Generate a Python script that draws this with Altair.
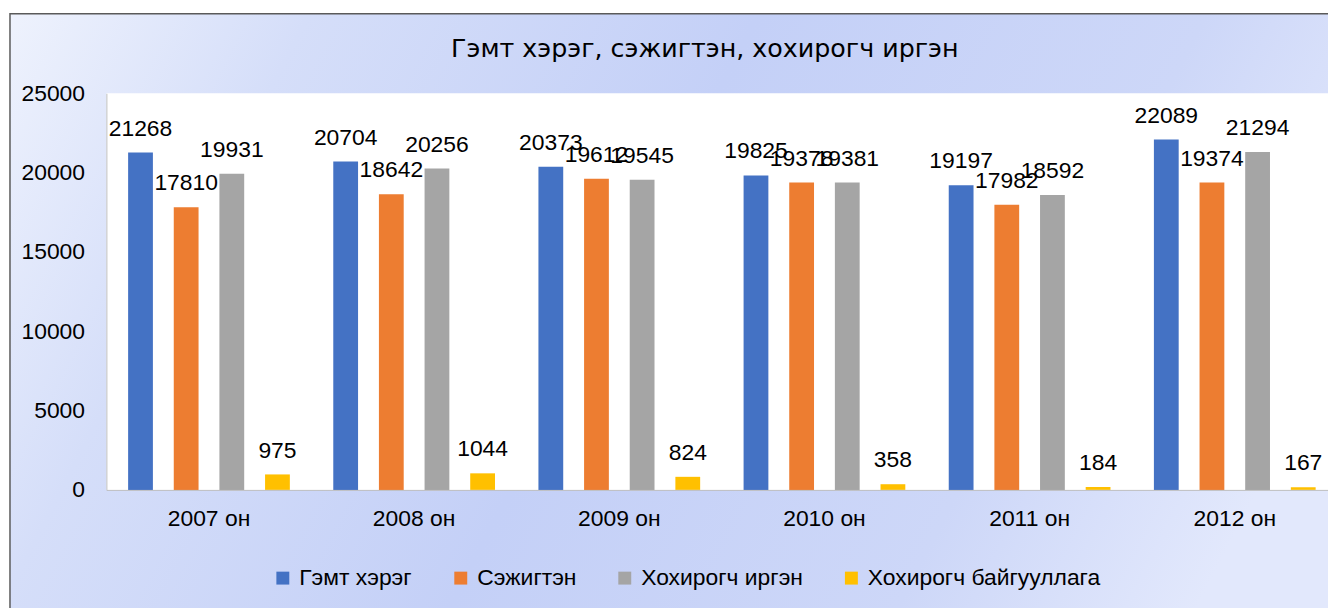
import altair as alt
import pandas as pd

title_text = "Гэмт хэрэг, сэжигтэн, хохирогч иргэн"
years = ["2007 он", "2008 он", "2009 он", "2010 он", "2011 он", "2012 он"]
series = ["Гэмт хэрэг", "Сэжигтэн", "Хохирогч иргэн", "Хохирогч байгууллага"]
colors = ["#4472C4", "#ED7D31", "#A5A5A5", "#FFC000"]

crimes = [21268, 20704, 20373, 19825, 19197, 22089]
suspects = [17810, 18642, 19612, 19378, 17982, 19374]
victims_people = [19931, 20256, 19545, 19381, 18592, 21294]
victims_org = [975, 1044, 824, 358, 184, 167]

y_ticks = [0, 5000, 10000, 15000, 20000, 25000]

rows = []
for s, vals in zip(series, [crimes, suspects, victims_people, victims_org]):
    for yr, v in zip(years, vals):
        rows.append({"year": yr, "series": s, "value": v})
df = pd.DataFrame(rows)

FONT = "Liberation Sans"
W, H = 1229, 399

x_enc = alt.X(
    "year:N", sort=years,
    scale=alt.Scale(range=[0, 1238.4], paddingInner=0.11, paddingOuter=0.055),
    axis=alt.Axis(title=None, labelAngle=0, ticks=False, labelFontSize=23,
                  labelFont=FONT, labelColor="#000000", labelPadding=18,
                  domainColor="#bfbfbf", domainWidth=1, zindex=1),
)
xo_enc = alt.XOffset("series:N", sort=series,
                     scale=alt.Scale(paddingInner=0.457, paddingOuter=0.2285))
y_enc = alt.Y(
    "value:Q", scale=alt.Scale(domain=[0, 25000], nice=False),
    axis=alt.Axis(title=None, values=y_ticks, format="d", grid=False, ticks=False,
                  labelFontSize=23, labelFont=FONT, labelColor="#000000",
                  labelPadding=22, domainColor="#bfbfbf", domainWidth=1, zindex=1),
)

bg_data = pd.DataFrame({"k": [0]})

background = alt.Chart(bg_data).mark_rect(
    fill=alt.Gradient(
        gradient="linear", x1=0, y1=0, x2=1, y2=0.25,
        stops=[
            alt.GradientStop(color="#eef2fd", offset=0),
            alt.GradientStop(color="#d5def9", offset=0.2),
            alt.GradientStop(color="#c4d0f7", offset=0.5),
            alt.GradientStop(color="#cdd7f8", offset=0.8),
            alt.GradientStop(color="#e2e8fc", offset=1),
        ],
    ),
    stroke="#5a5a5a", strokeWidth=1.5,
).encode(
    x=alt.value(-97), x2=alt.value(1320),
    y=alt.value(-80), y2=alt.value(600),
)

plot_bg = alt.Chart(bg_data).mark_rect(fill="white").encode(
    x=alt.value(0), x2=alt.value(1300),
    y=alt.value(0), y2=alt.value(H),
)

title_mark = alt.Chart(pd.DataFrame({"t": [title_text]})).mark_text(
    align="center", baseline="alphabetic", fontSize=25.5, font="DejaVu Sans",
    color="#000000"
).encode(
    text="t:N", x=alt.value(602), y=alt.value(-37),
)

bars = alt.Chart(df).mark_bar().encode(
    x=x_enc, xOffset=xo_enc, y=y_enc,
    color=alt.Color(
        "series:N", sort=series,
        scale=alt.Scale(domain=series, range=colors),
        legend=alt.Legend(
            title=None, orient="none", legendX=166, legendY=476,
            direction="horizontal", columns=4, columnPadding=37,
            symbolType="square", symbolSize=169, symbolStrokeWidth=0,
            labelFontSize=23, labelFont=FONT, labelColor="#000000",
            labelOffset=5, labelLimit=0, padding=0, zindex=1,
        ),
    ),
)

labels = alt.Chart(df).mark_text(
    dy=-17, baseline="alphabetic", fontSize=23, font=FONT, color="#000000"
).encode(
    x=x_enc, xOffset=xo_enc, y=y_enc,
    text=alt.Text("value:Q", format="d"),
)

chart = alt.layer(background, plot_bg, title_mark, bars, labels).properties(
    width=W, height=H,
    autosize=alt.AutoSizeParams(type="none"),
    padding={"left": 99, "top": 84, "right": 0, "bottom": 117},
).configure_view(strokeWidth=0)

chart.save("out.html", embed_options={"renderer": "svg", "actions": False})
